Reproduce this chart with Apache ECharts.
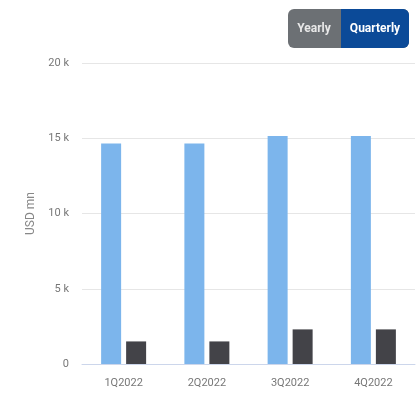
<!DOCTYPE html>
<html>
<head>
<meta charset="utf-8">
<script src="https://cdn.jsdelivr.net/npm/echarts@6/dist/echarts.min.js"></script>
<style>html,body{margin:0;padding:0;background:#fff}#c{width:417px;height:418px}</style>
</head>
<body>
<div id="c"></div>
<script>
const categories = ['1Q2022', '2Q2022', '3Q2022', '4Q2022'];
const seriesA = [14650, 14650, 15150, 15150];
const seriesB = [1500, 1500, 2300, 2300];
const yTicks = [0, 5000, 10000, 15000, 20000];
const yTitle = 'USD mn';
const buttons = ['Yearly', 'Quarterly'];

const FONT = 'Roboto, "DejaVu Sans Condensed", sans-serif';
const chart = echarts.init(document.getElementById('c'));
chart.setOption({
  animation: false,
  grid: { left: 82, right: 2, top: 63, bottom: 54, containLabel: false },
  xAxis: {
    type: 'category',
    data: categories,
    axisLine: { lineStyle: { color: '#ccd6eb' } },
    axisTick: { show: false },
    axisLabel: { color: '#777', fontFamily: FONT, fontSize: 11, margin: 14 }
  },
  yAxis: {
    type: 'value',
    min: yTicks[0], max: yTicks[yTicks.length - 1], interval: 5000,
    name: yTitle,
    nameLocation: 'middle',
    nameGap: 43,
    nameRotate: 90,
    nameTextStyle: { color: '#888', fontFamily: FONT, fontSize: 12 },
    axisLine: { show: false },
    axisTick: { show: false },
    splitLine: { lineStyle: { color: '#e6e6e6' } },
    axisLabel: {
      color: '#777', fontFamily: FONT, fontSize: 11, margin: 13,
      formatter: v => v === 0 ? '0' : (v / 1000) + ' k'
    }
  },
  series: [
    { type: 'bar', data: seriesA, barWidth: 20, barGap: '25%', itemStyle: { color: '#7cb5ec' } },
    { type: 'bar', data: seriesB, barWidth: 20, barGap: '25%', itemStyle: { color: '#434348' } }
  ],
  graphic: [
    { type: 'rect', shape: { x: 288, y: 9, width: 121, height: 39, r: 6 }, style: { fill: '#6c7074' } },
    { type: 'rect', shape: { x: 341, y: 9, width: 68, height: 39, r: [0, 6, 6, 0] }, style: { fill: '#0b4a98' } },
    { type: 'rect', shape: { x: 341, y: 9, width: 8, height: 39 }, style: { fill: '#0b4a98' } },
    { type: 'text', x: 314, y: 28.5, style: { text: buttons[0], fill: '#e8e8e8', font: 'bold 12px ' + FONT, textAlign: 'center', textVerticalAlign: 'middle' } },
    { type: 'text', x: 375, y: 28.5, style: { text: buttons[1], fill: '#ffffff', font: 'bold 12px ' + FONT, textAlign: 'center', textVerticalAlign: 'middle' } }
  ]
});
</script>
</body>
</html>
